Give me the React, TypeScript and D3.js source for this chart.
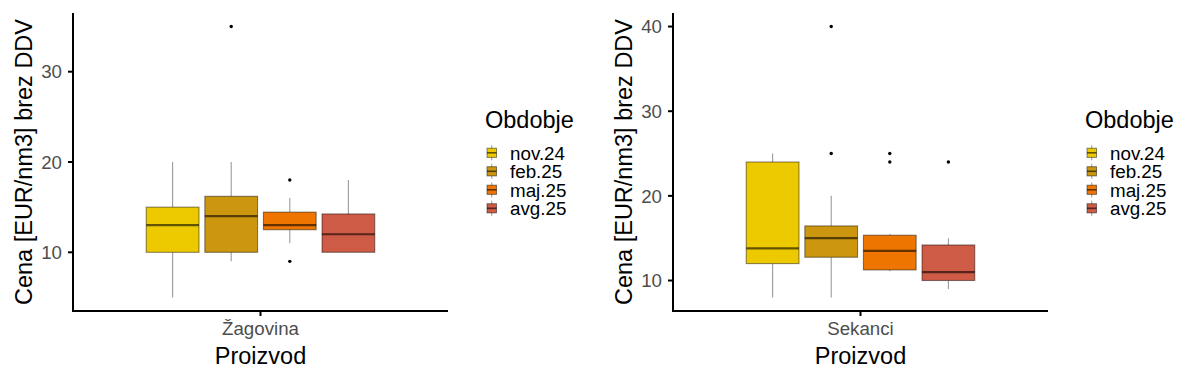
import React from "react";
import * as d3 from "d3";

const periods = ["nov.24", "feb.25", "maj.25", "avg.25"];
const periodColors = ["#EDC900", "#CC960F", "#EE7600", "#CD5B45"];

// Žagovina
const zWhiskerLow = [5, 9, 11, 10];
const zQ1 = [10, 10, 12.5, 10];
const zMedian = [13, 14, 13, 12];
const zQ3 = [15, 16.2, 14.45, 14.25];
const zWhiskerHigh = [20, 20, 16, 18];
const zOutliers = [[], [35], [18, 9], []];
const zTicks = [10, 20, 30];

// Sekanci
const sWhiskerLow = [8, 8, 11.1, 9];
const sQ1 = [12, 12.75, 11.25, 10];
const sMedian = [13.8, 15, 13.5, 11];
const sQ3 = [24, 16.45, 15.35, 14.2];
const sWhiskerHigh = [25, 20, 15.5, 15];
const sOutliers = [[], [40, 25], [25, 24], [24]];
const sTicks = [10, 20, 30, 40];

const FONT = "'Liberation Sans', Arial, sans-serif";

type PanelProps = {
  ox: number;
  category: string;
  lo: number[];
  q1: number[];
  med: number[];
  q3: number[];
  hi: number[];
  out: number[][];
  ticks: number[];
};

function Panel({ ox, category, lo, q1, med, q3, hi, out, ticks }: PanelProps) {
  const left = 73, right = 448, top = 13, bottom = 311;
  const all = [...lo, ...hi, ...out.flat()];
  const [mn, mx] = d3.extent(all) as [number, number];
  const pad = (mx - mn) * 0.05;
  const y = d3.scaleLinear().domain([mn - pad, mx + pad]).range([bottom, top]);
  const x = d3.scaleLinear().domain([0.4, 1.6]).range([left, right]);
  const band = d3
    .scaleBand<string>()
    .domain(periods)
    .range([x(1 - 0.375), x(1 + 0.375)])
    .paddingInner(0.1)
    .paddingOuter(0.05);
  const bw = band.bandwidth();
  const edge = "rgba(0,0,0,0.45)";
  const whisk = "rgba(0,0,0,0.4)";
  const legendRow0 = 152.8;
  const legendStep = 18.5;
  return (
    <g transform={`translate(${ox},0)`}>
      {/* boxes */}
      {periods.map((p, i) => {
        const cx = (band(p) as number) + bw / 2;
        return (
          <g key={p}>
            <line x1={cx} x2={cx} y1={y(hi[i])} y2={y(q3[i])} stroke={whisk} strokeWidth={1.1} />
            <line x1={cx} x2={cx} y1={y(q1[i])} y2={y(lo[i])} stroke={whisk} strokeWidth={1.1} />
            <rect
              x={band(p)}
              y={y(q3[i])}
              width={bw}
              height={y(q1[i]) - y(q3[i])}
              fill={periodColors[i]}
              stroke={edge}
              strokeWidth={1.1}
            />
            <line
              x1={band(p)}
              x2={(band(p) as number) + bw}
              y1={y(med[i])}
              y2={y(med[i])}
              stroke="rgba(0,0,0,0.58)"
              strokeWidth={2.2}
            />
            {out[i].map((v, j) => (
              <circle key={j} cx={cx} cy={y(v)} r={1.7} fill="#000" />
            ))}
          </g>
        );
      })}
      {/* axes */}
      <line x1={left} x2={left} y1={top} y2={bottom + 1} stroke="#000" strokeWidth={2} />
      <line x1={left - 1} x2={right} y1={bottom} y2={bottom} stroke="#000" strokeWidth={2} />
      {ticks.map((t) => (
        <g key={t}>
          <line x1={left - 5} x2={left} y1={y(t)} y2={y(t)} stroke="#000" strokeWidth={2} />
          <text
            x={left - 11}
            y={y(t)}
            dy="0.36em"
            textAnchor="end"
            fontFamily={FONT}
            fontSize={18.7}
            fill="#4D4D4D"
          >
            {t}
          </text>
        </g>
      ))}
      <line x1={x(1)} x2={x(1)} y1={bottom} y2={bottom + 5} stroke="#000" strokeWidth={2} />
      <text x={x(1)} y={335} textAnchor="middle" fontFamily={FONT} fontSize={18.7} fill="#4D4D4D">
        {category}
      </text>
      <text x={x(1)} y={364} textAnchor="middle" fontFamily={FONT} fontSize={23.5} fill="#000">
        Proizvod
      </text>
      <text
        transform={`translate(32,${(top + bottom) / 2}) rotate(-90)`}
        textAnchor="middle"
        fontFamily={FONT}
        fontSize={23.5}
        fill="#000"
      >
        Cena [EUR/nm3] brez DDV
      </text>
      {/* legend */}
      <text x={485} y={128} fontFamily={FONT} fontSize={23.5} fill="#000">
        Obdobje
      </text>
      {periods.map((p, i) => {
        const cy = legendRow0 + i * legendStep;
        const kx = 487;
        const kw = 9.5;
        return (
          <g key={p}>
            <line x1={kx + kw / 2} x2={kx + kw / 2} y1={cy - 7.5} y2={cy + 7.5} stroke={whisk} strokeWidth={1} />
            <rect x={kx} y={cy - 4.6} width={kw} height={9.2} fill={periodColors[i]} stroke={edge} strokeWidth={1} />
            <line x1={kx} x2={kx + kw} y1={cy} y2={cy} stroke="rgba(0,0,0,0.58)" strokeWidth={1.6} />
            <text x={510} y={cy} dy="0.36em" fontFamily={FONT} fontSize={18.8} fill="#000">
              {p}
            </text>
          </g>
        );
      })}
    </g>
  );
}

export default function App() {
  return (
    <svg
      width={1200}
      height={382}
      style={{ position: "absolute", left: 0, top: 0, display: "block", background: "#fff" }}
    >
      <rect width={1200} height={382} fill="#fff" />
      <Panel
        ox={0}
        category="Žagovina"
        lo={zWhiskerLow}
        q1={zQ1}
        med={zMedian}
        q3={zQ3}
        hi={zWhiskerHigh}
        out={zOutliers}
        ticks={zTicks}
      />
      <Panel
        ox={600}
        category="Sekanci"
        lo={sWhiskerLow}
        q1={sQ1}
        med={sMedian}
        q3={sQ3}
        hi={sWhiskerHigh}
        out={sOutliers}
        ticks={sTicks}
      />
    </svg>
  );
}
